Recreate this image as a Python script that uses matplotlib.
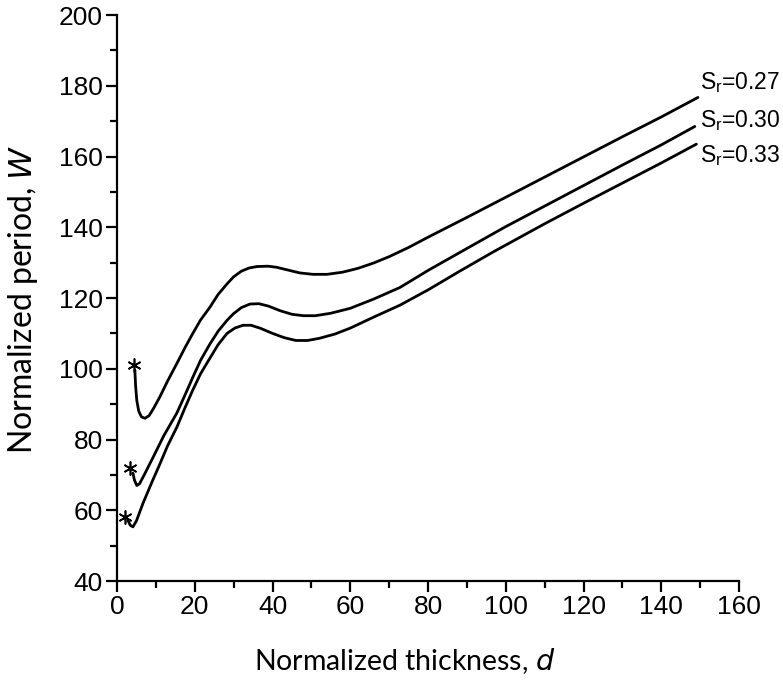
import matplotlib
matplotlib.use("Agg")
import matplotlib.pyplot as plt
from matplotlib.ticker import MultipleLocator

# dados
sr_labels = ["0.27", "0.30", "0.33"]

d_027 = [4.6, 4.8, 5.1, 5.6, 6.3, 7.2, 8.3, 9.5, 11, 13, 15.4, 17.5, 19.5, 21.5, 23.9, 26, 28.3, 30,
         32, 34, 36, 38.8, 41, 44, 47, 50.4, 54, 58, 62, 66, 70, 75, 80, 90, 100, 110, 120, 130, 140, 149.4]
w_027 = [99.6, 95, 91, 88, 86.4, 86, 86.8, 89, 92, 96.5, 101.5, 106, 110, 113.8, 117.4, 121, 124, 126,
         127.6, 128.5, 128.9, 129, 128.7, 127.9, 127.1, 126.7, 126.7, 127.3, 128.4, 129.9, 131.7, 134.3, 137.2,
         142.8, 148.5, 154.2, 159.9, 165.6, 171.2, 176.7]

d_030 = [4.1, 4.5, 5.1, 5.8, 7, 9.3, 12, 15.4, 17.5, 19.5, 21.5, 23.9, 26, 28.3, 30, 32, 34.2, 36.5,
         39, 42, 45, 48, 51, 55, 60, 66, 72.8, 80, 88.2, 100, 110, 120, 130, 140, 148.6]
w_030 = [70.5, 68.5, 67, 67.5, 70, 75, 81, 87.5, 92.6, 97.6, 102.4, 107, 110.6, 113.7, 115.6, 117.3, 118.3, 118.4,
         117.7, 116.4, 115.4, 115, 115, 115.7, 117.1, 119.7, 123, 127.8, 132.9, 140.2, 146, 151.8, 157.6, 163.3, 168.5]

d_033 = [2.8, 3.4, 4.1, 5, 6.7, 9, 11, 13, 15.4, 17.5, 19.5, 21.5, 23.9, 26, 28.3, 30.3, 32.4, 34.5,
         37, 40, 43, 46, 49, 52, 56, 60, 66, 72.8, 80, 88, 96.7, 110, 120, 130, 140, 149]
w_033 = [57.2, 55.8, 55.3, 57, 62, 68, 73, 78.2, 83.5, 89, 94, 98.6, 103, 106.8, 110, 111.5, 112.3, 112.3,
         111.4, 110, 108.8, 108, 108, 108.6, 109.8, 111.5, 114.6, 118, 122.3, 127.5, 133, 141, 146.8, 152.5,
         158.2, 163.5]

# asteriscos no inicio das curvas
star_d = [4.4, 3.3, 2.1]
star_w = [101, 71.9, 58.1]

# posicao dos rotulos S_r
label_d = [149.9, 149.9, 149.9]
label_w = [181.0, 170.2, 160.3]

plt.rcParams['mathtext.fontset'] = 'custom'
plt.rcParams['mathtext.rm'] = 'Liberation Sans'
plt.rcParams['font.family'] = ['Liberation Sans', 'DejaVu Sans']

fig = plt.figure(figsize=(7.83, 6.83), dpi=100)
ax = fig.add_axes([0.1494, 0.1493, 0.7946, 0.8287])

for dx, wy in [(d_027, w_027), (d_030, w_030), (d_033, w_033)]:
    ax.plot(dx, wy, color='black', lw=2.0, solid_capstyle='round', solid_joinstyle='round')

ax.plot(star_d, star_w, linestyle='none', marker=(6, 2, 0), markersize=10,
        markeredgewidth=1.2, color='black')

for x, y, s in zip(label_d, label_w, sr_labels):
    ax.text(x, y, r'S$_\mathrm{r}$=' + s, fontsize=16.5, ha='left', va='center', clip_on=False)

ax.set_xlim(0, 160)
ax.set_ylim(40, 200)
ax.xaxis.set_major_locator(MultipleLocator(20))
ax.xaxis.set_minor_locator(MultipleLocator(10))
ax.yaxis.set_major_locator(MultipleLocator(20))
ax.yaxis.set_minor_locator(MultipleLocator(10))

ax.spines['top'].set_visible(False)
ax.spines['right'].set_visible(False)
ax.spines['left'].set_linewidth(1.6)
ax.spines['bottom'].set_linewidth(1.6)
ax.tick_params(which='major', direction='out', length=8, width=1.6, labelsize=19, pad=2)
ax.tick_params(which='minor', direction='out', length=5, width=1.6)

ax.set_xlabel('Normalized thickness, $d$', fontsize=20.5, family='Lato')
ax.set_ylabel('Normalized period, $W$', fontsize=23, family='Lato')
ax.xaxis.set_label_coords(0.463, -0.115)
ax.yaxis.set_label_coords(-0.124, 0.497)

fig.savefig('out.png', dpi=100)
